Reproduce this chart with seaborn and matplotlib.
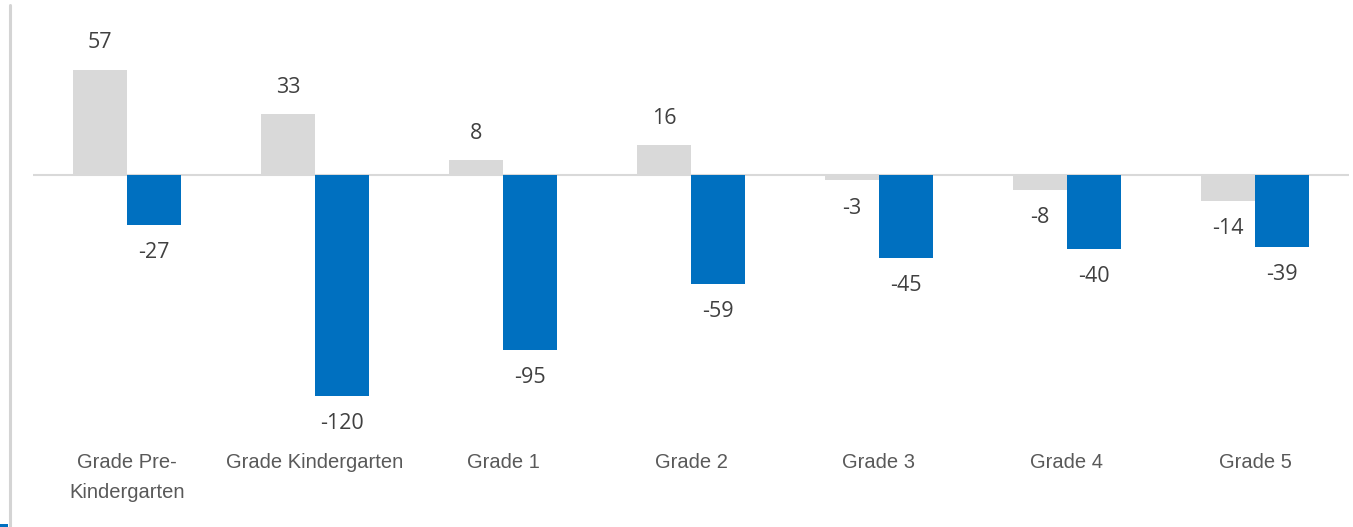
import matplotlib
matplotlib.use("Agg")
import matplotlib.pyplot as plt
from matplotlib.patches import Rectangle
from matplotlib.lines import Line2D
import pandas as pd
import seaborn as sns

# Grade levels and the two series compared for each
grades = ["Grade Pre-\nKindergarten", "Grade Kindergarten", "Grade 1", "Grade 2",
          "Grade 3", "Grade 4", "Grade 5"]
series_names = ["Series A", "Series B"]
series_a = [57, 33, 8, 16, -3, -8, -14]
series_b = [-27, -120, -95, -59, -45, -40, -39]

df = pd.DataFrame({
    "grade": grades * 2,
    "series": [series_names[0]] * len(grades) + [series_names[1]] * len(grades),
    "value": series_a + series_b,
})

sns.set_theme(style="white")

W, H = 1353, 527
fig = plt.figure(figsize=(W / 100, H / 100), dpi=100)
fig.patch.set_facecolor("white")

# axes box in pixels: left 33, right 1349, top 20, bottom 440
ax = fig.add_axes([33 / W, 1 - 440 / H, 1316 / W, 420 / H])

sns.barplot(data=df, x="grade", y="value", hue="series", order=grades,
            hue_order=series_names, palette=["#d9d9d9", "#0070c0"],
            width=0.574, gap=0, saturation=1, errorbar=None,
            linewidth=0, legend=False, ax=ax)

ax.set_xlim(-0.5, 6.5)
ax.set_ylim(-143.9, 84.1)
ax.axhline(0, color="#d9d9d9", lw=1.5, zorder=0)

for s in ax.spines.values():
    s.set_visible(False)
ax.set_yticks([])
ax.set_xlabel("")
ax.set_ylabel("")
ax.tick_params(axis="x", length=0, pad=9.5)
for lbl in ax.get_xticklabels():
    lbl.set_fontfamily("Liberation Sans")
    lbl.set_fontsize(14.5)
    lbl.set_color("#595959")
    lbl.set_linespacing(1.7)

# value labels beyond each bar end
for cont in ax.containers:
    for patch, val in zip(cont.patches, cont.datavalues):
        xc = patch.get_x() + patch.get_width() / 2
        off = 19.5 if val >= 0 else -20
        ax.annotate(f"{val:.0f}", xy=(xc, val), xytext=(0, off),
                    textcoords="offset points", ha="center", va="center",
                    fontfamily="Open Sans", fontsize=15.5, color="#404040")

# frame edge on the left and small accent mark at the bottom corner
fig.add_artist(Line2D([10 / W, 10 / W], [0, 1 - 5 / H], transform=fig.transFigure,
                      color="#d4d4d4", lw=2.2))
fig.add_artist(Rectangle((0, 0), 8 / W, 3 / H, transform=fig.transFigure,
                         color="#0070c0", lw=0))

fig.savefig("out.png", dpi=100, facecolor="white")
